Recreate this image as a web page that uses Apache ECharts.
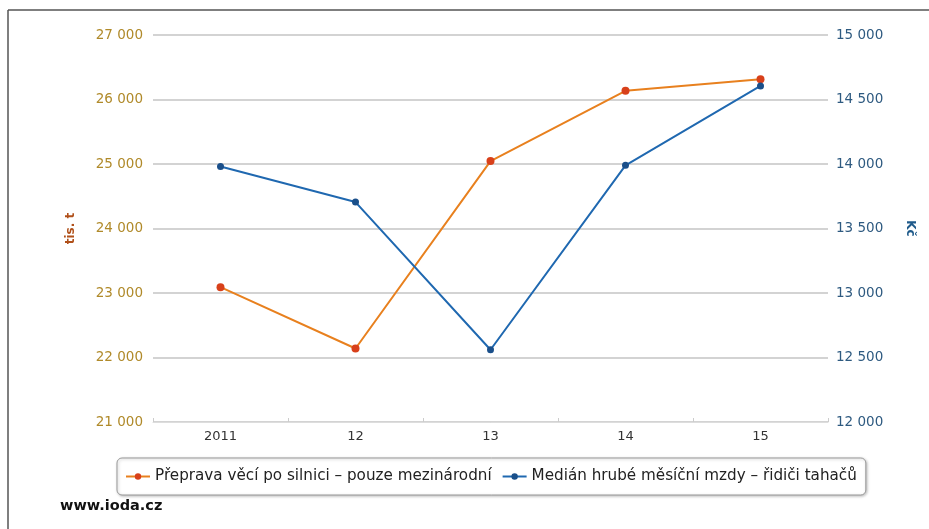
<!DOCTYPE html>
<html>
<head>
<meta charset="utf-8">
<script src="https://cdn.jsdelivr.net/npm/echarts@6/dist/echarts.min.js"></script>
<style>
html,body{margin:0;padding:0;background:#fff;}
#c{width:929px;height:529px;}
</style>
</head>
<body>
<div id="c"></div>
<script>
const categories = ['2011', '12', '13', '14', '15'];
const transportValues = [23090, 22140, 25045, 26135, 26315];
const wageValues = [13980, 13705, 12560, 13990, 14605];
const transportName = 'Přeprava věcí po silnici – pouze mezinárodní';
const wageName = 'Medián hrubé měsíční mzdy – řidiči tahačů';
const leftAxisName = 'tis. t';
const rightAxisName = 'Kč';
const sourceText = 'www.ioda.cz';

const fmt = v => String(v).replace(/\B(?=(\d{3})+(?!\d))/g, ' ');
const chart = echarts.init(document.getElementById('c'));
chart.setOption({
  animation: false,
  textStyle: {fontFamily: 'DejaVu Sans'},
  grid: {left: 153, right: 101, top: 35, bottom: 107},
  graphic: [
    {type: 'line', shape: {x1: 8, y1: 10, x2: 929, y2: 10}, style: {stroke: '#555', lineWidth: 1.5}},
    {type: 'line', shape: {x1: 8, y1: 10, x2: 8, y2: 529}, style: {stroke: '#555', lineWidth: 1.5}},
    {type: 'text', left: 60, top: 499, style: {text: sourceText, font: 'bold 14.5px "DejaVu Sans"', fill: '#111'}}
  ],
  legend: {
    left: 117, top: 458,
    padding: [11, 9, 11, 8],
    backgroundColor: '#fff',
    borderColor: '#999', borderWidth: 1, borderRadius: 5,
    shadowColor: 'rgba(0,0,0,0.25)', shadowBlur: 3, shadowOffsetX: 1, shadowOffsetY: 1,
    itemWidth: 24, itemHeight: 8, itemGap: 10,
    textStyle: {fontSize: 15.2, color: '#222', fontFamily: 'DejaVu Sans'},
    data: [transportName, wageName]
  },
  xAxis: {
    type: 'category',
    data: categories,
    boundaryGap: true,
    axisLine: {lineStyle: {color: '#ddd'}},
    axisTick: {show: true, inside: true, length: 4, lineStyle: {color: '#ccc'}},
    axisLabel: {color: '#333', fontSize: 13, margin: 8}
  },
  yAxis: [
    {
      type: 'value', min: 21000, max: 27000, interval: 1000, position: 'left',
      name: leftAxisName, nameLocation: 'middle', nameRotate: 90, nameGap: 76,
      nameTextStyle: {color: '#b0501a', fontSize: 12, fontWeight: 'bold'},
      axisLine: {show: false}, axisTick: {show: false},
      axisLabel: {color: '#b08a2a', fontSize: 13.5, margin: 10, formatter: fmt},
      splitLine: {lineStyle: {color: '#c4c4c4', width: 1.5}}
    },
    {
      type: 'value', min: 12000, max: 15000, interval: 500, position: 'right',
      name: rightAxisName, nameLocation: 'middle', nameRotate: -90, nameGap: 76,
      nameTextStyle: {color: '#1f5a8a', fontSize: 12, fontWeight: 'bold'},
      axisLine: {show: false}, axisTick: {show: false},
      axisLabel: {color: '#2e5a80', fontSize: 13.5, margin: 8, formatter: fmt},
      splitLine: {show: false}
    }
  ],
  series: [
    {
      name: transportName, type: 'line', yAxisIndex: 0, data: transportValues,
      symbol: 'circle', symbolSize: 8,
      lineStyle: {color: '#e8801e', width: 2},
      itemStyle: {color: '#d8401a'}
    },
    {
      name: wageName, type: 'line', yAxisIndex: 1, data: wageValues,
      symbol: 'circle', symbolSize: 7,
      lineStyle: {color: '#1f68b0', width: 2},
      itemStyle: {color: '#1a4f8a'}
    }
  ]
});
</script>
</body>
</html>
